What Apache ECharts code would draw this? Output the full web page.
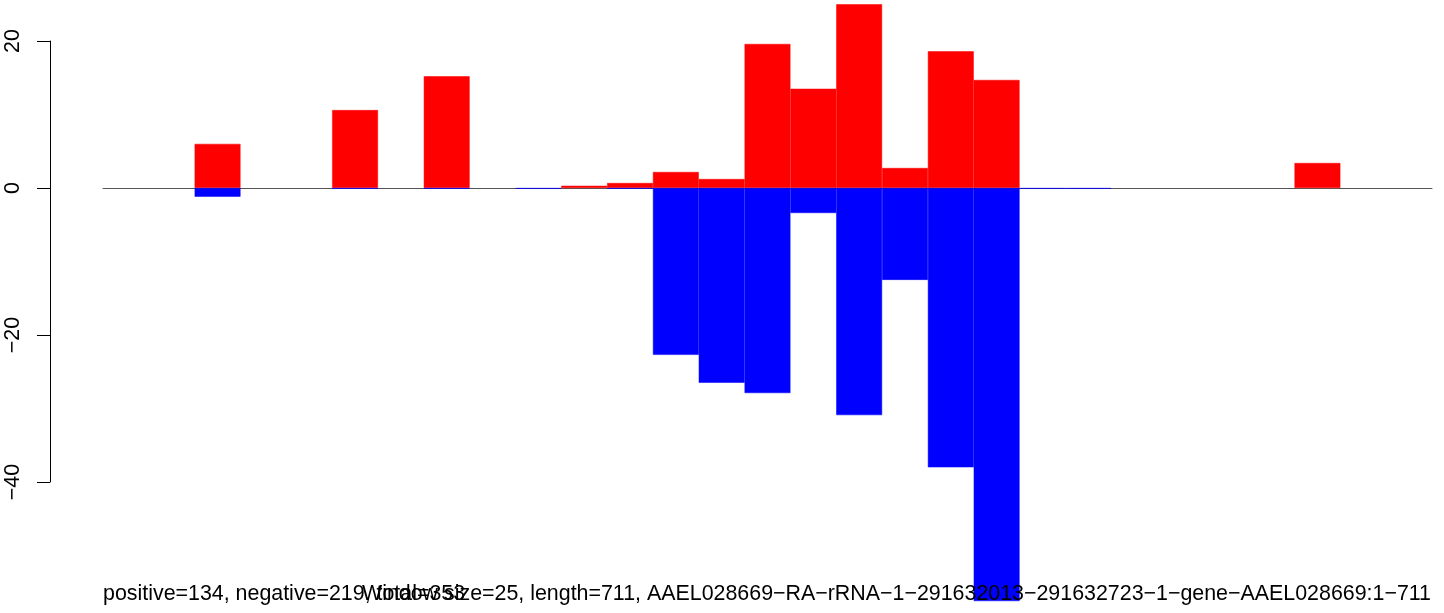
<!DOCTYPE html>
<html>
<head>
<meta charset="utf-8">
<script src="https://cdn.jsdelivr.net/npm/echarts@6/dist/echarts.min.js"></script>
<style>
html,body{margin:0;padding:0;background:#fff;}
#chart{width:1444px;height:613px;}
</style>
</head>
<body>
<div id="chart"></div>
<script>
// bins (window start positions)
var categories = ['1','26','51','76','101','126','151','176','201','226','251','276','301','326','351','376','401','426','451','476','501','526','551','576','601','626','651','676','701'];
var positiveValues = [0,0,6.0,0,0,10.6,0,15.2,0,0,0.3,0.68,2.18,1.22,19.6,13.5,25.0,2.72,18.6,14.7,0,0,0,0,0,0,3.4,0,0];
var negativeValues = [0,0,-1.18,0,0,-0.1,0,-0.1,0,-0.1,0,-0.1,-22.7,-26.5,-27.9,-3.4,-30.9,-12.5,-38.0,-56.2,-0.1,-0.1,0,0,0,0,0,0,0];
var yTicks = [-40,-20,0,20];
var leftText = 'positive=134, negative=219, total=353';
var rightText = 'Window size=25, length=711, AAEL028669\u2212RA\u2212rRNA\u22121\u2212291632013\u2212291632723\u22121\u2212gene\u2212AAEL028669:1\u2212711';

function barData(arr) { return arr.map(function (v) { return v === 0 ? '-' : v; }); }

var FONT = '"Liberation Sans", Arial, Helvetica, sans-serif';
var chart = echarts.init(document.getElementById('chart'), null, {renderer:'canvas'});
chart.setOption({
  animation: false,
  backgroundColor: '#ffffff',
  grid: {left: 103, right: 12, top: 41, bottom: 131, containLabel: false},
  xAxis: {
    type: 'category',
    data: categories,
    boundaryGap: true,
    axisLine: {show: true, onZero: true, lineStyle: {color: '#555555', width: 1}},
    axisTick: {show: false},
    axisLabel: {show: false},
    splitLine: {show: false}
  },
  yAxis: {
    type: 'value',
    min: yTicks[0],
    max: yTicks[yTicks.length - 1],
    interval: 20,
    offset: 53,
    axisLine: {show: true, lineStyle: {color: '#000', width: 1}},
    axisTick: {show: true, length: 13, inside: false, lineStyle: {color: '#000', width: 1}},
    axisLabel: {
      show: true, rotate: 90, margin: 26, color: '#000', fontSize: 21.4, fontFamily: FONT,
      formatter: function (v) { return String(v).replace('-', '\u2212'); }
    },
    splitLine: {show: false}
  },
  series: [
    {
      type: 'bar',
      data: barData(positiveValues),
      clip: false,
      barGap: '-100%',
      barCategoryGap: '0%',
      itemStyle: {color: '#ff0000', borderColor: '#ff0000', borderWidth: 0.5},
      emphasis: {disabled: true}
    },
    {
      type: 'bar',
      data: barData(negativeValues),
      clip: false,
      barGap: '-100%',
      barCategoryGap: '0%',
      itemStyle: {color: '#0000ff', borderColor: '#0000ff', borderWidth: 0.5},
      emphasis: {disabled: true}
    }
  ],
  graphic: [
    {type: 'text', z: 100, left: 103, top: 584, style: {text: leftText, fill: '#000', font: '21.4px ' + FONT}},
    {type: 'text', z: 100, right: 13, top: 584, style: {text: rightText, fill: '#000', font: '21.4px ' + FONT}}
  ]
});
</script>
</body>
</html>
